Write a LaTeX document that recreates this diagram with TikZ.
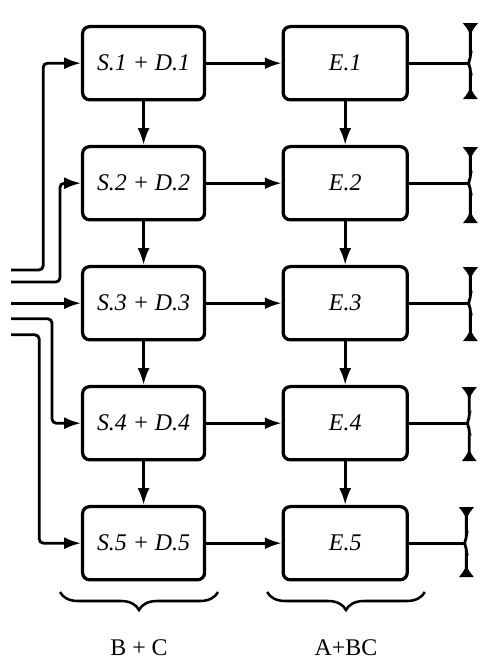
\documentclass[tikz,border=0pt]{standalone}
\usepackage{fontspec}
\setmainfont{Liberation Serif}
\usepackage{tikz}
\usetikzlibrary{arrows.meta,decorations.pathreplacing,positioning}

\begin{document}
\begin{tikzpicture}[
  block/.style={draw, line width=2.3pt, rounded corners=5pt, minimum width=3.05cm, minimum height=1.83cm, inner sep=0pt, font=\fontsize{17}{20}\selectfont\itshape},
  flow/.style={line width=2pt, -{Latex[length=0.42cm,width=0.3cm]}},
  feed/.style={flow, rounded corners=3pt},
  fork/.style={line width=2pt, rounded corners=2pt, {Latex[reversed,length=0.3cm,width=0.4cm]}-{Latex[reversed,length=0.3cm,width=0.4cm]}},
  group/.style={line width=1.8pt, decorate, decoration={brace, mirror, amplitude=0.45cm}},
  tag/.style={font=\fontsize{17}{20}\selectfont, inner sep=0pt}
]
%row distance
\newcommand*{\Row}{3}
\useasboundingbox (0,0) rectangle (12.025,-16.5);
%first stage
\node[block] (S1) at (3.59,-1.58) {S.1 + D.1};
\node[block] (S2) at (3.59,-1.58-\Row) {S.2 + D.2};
\node[block] (S3) at (3.59,-1.58-2*\Row) {S.3 + D.3};
\node[block] (S4) at (3.59,-1.58-3*\Row) {S.4 + D.4};
\node[block] (S5) at (3.59,-1.58-4*\Row) {S.5 + D.5};
%second stage
\node[block, minimum width=3.1cm] (E1) at (8.63,-1.58) {E.1};
\node[block, minimum width=3.1cm] (E2) at (8.63,-1.58-\Row) {E.2};
\node[block, minimum width=3.1cm] (E3) at (8.63,-1.58-2*\Row) {E.3};
\node[block, minimum width=3.1cm] (E4) at (8.63,-1.58-3*\Row) {E.4};
\node[block, minimum width=3.1cm] (E5) at (8.63,-1.58-4*\Row) {E.5};
%inputs on the left
\coordinate (in1) at (0.28,-6.75);
\coordinate (in2) at (0.28,-7.05);
\coordinate (in3) at (0.28,-7.58);
\coordinate (in4) at (0.28,-7.97);
\coordinate (in5) at (0.28,-8.37);
\draw[feed] (in1) -- (1.08,-6.75) |- (S1.west);
\draw[feed] (in2) -- (1.5,-7.05) |- (S2.west);
\draw[flow] (in3) -- (S3.west);
\draw[feed] (in4) -- (1.3,-7.97) |- (S4.west);
\draw[feed] (in5) -- (0.98,-8.37) |- (S5.west);
%arrows down the columns
\draw[flow] (S1) -- (S2);
\draw[flow] (S2) -- (S3);
\draw[flow] (S3) -- (S4);
\draw[flow] (S4) -- (S5);
\draw[flow] (E1) -- (E2);
\draw[flow] (E2) -- (E3);
\draw[flow] (E3) -- (E4);
\draw[flow] (E4) -- (E5);
%arrows across
\draw[flow] (S1) -- (E1);
\draw[flow] (S2) -- (E2);
\draw[flow] (S3) -- (E3);
\draw[flow] (S4) -- (E4);
\draw[flow] (S5) -- (E5);
%outputs on the right
\coordinate (j1) at (11.7,-1.58);
\coordinate (j2) at (11.7,-1.58-\Row);
\coordinate (j3) at (11.7,-1.58-2*\Row);
\coordinate (j4) at (11.67,-1.58-3*\Row);
\coordinate (j5) at (11.6,-1.58-4*\Row);
\draw[line width=2pt] (E1.east) -- (j1);
\draw[line width=2pt] (E2.east) -- (j2);
\draw[line width=2pt] (E3.east) -- (j3);
\draw[line width=2pt] (E4.east) -- (j4);
\draw[line width=2pt] (E5.east) -- (j5);
\draw[fork] ([shift={(0.06,1.0)}]j1) -- ([shift={(0.06,0.12)}]j1) -- (j1) -- ([shift={(0.06,-0.12)}]j1) -- ([shift={(0.06,-0.9)}]j1);
\draw[fork] ([shift={(0.06,0.9)}]j2) -- ([shift={(0.06,0.12)}]j2) -- (j2) -- ([shift={(0.06,-0.12)}]j2) -- ([shift={(0.06,-1.0)}]j2);
\draw[fork] ([shift={(0.06,0.9)}]j3) -- ([shift={(0.06,0.12)}]j3) -- (j3) -- ([shift={(0.06,-0.12)}]j3) -- ([shift={(0.06,-0.95)}]j3);
\draw[fork] ([shift={(0.06,0.9)}]j4) -- ([shift={(0.06,0.12)}]j4) -- (j4) -- ([shift={(0.06,-0.12)}]j4) -- ([shift={(0.06,-0.95)}]j4);
\draw[fork] ([shift={(0.06,0.9)}]j5) -- ([shift={(0.06,0.12)}]j5) -- (j5) -- ([shift={(0.06,-0.12)}]j5) -- ([shift={(0.06,-0.85)}]j5);
%braces under the columns
\draw[group] (1.5,-14.8) -- (5.45,-14.8) node[midway, yshift=-1.38cm, tag] (bc) {B + C};
\draw[group] (6.68,-14.8) -- (10.62,-14.8) node[midway, yshift=-1.38cm, tag] (abc) {A+BC};
\end{tikzpicture}
\end{document}
